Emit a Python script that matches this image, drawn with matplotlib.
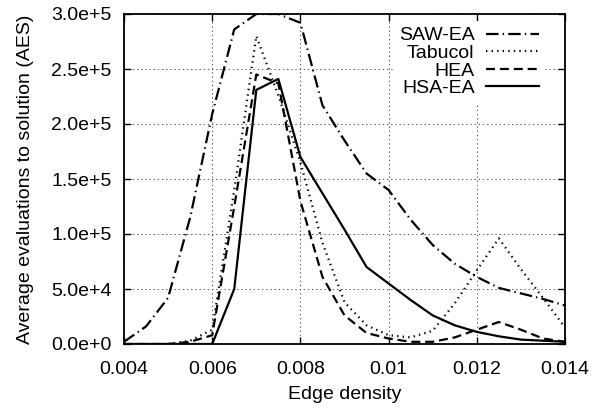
import matplotlib
matplotlib.use("Agg")
import matplotlib.pyplot as plt
from matplotlib.ticker import FixedLocator

plt.rcParams['font.family'] = ['Liberation Sans', 'DejaVu Sans']
plt.rcParams['lines.scale_dashes'] = False

# densidad de aristas
densidad = [0.004, 0.0045, 0.005, 0.0055, 0.006, 0.0065, 0.007, 0.0075, 0.008, 0.0085,
            0.009, 0.0095, 0.01, 0.0105, 0.011, 0.0115, 0.012, 0.0125, 0.013, 0.0135, 0.014]

saw_ea = [2e3, 1.6e4, 4.2e4, 1.15e5, 2.09e5, 2.86e5, 3.0e5, 3.0e5, 2.92e5, 2.17e5,
          1.85e5, 1.55e5, 1.4e5, 1.13e5, 9.0e4, 7.3e4, 6.1e4, 5.1e4, 4.6e4, 4.1e4, 3.5e4]
tabucol = [0, 0, 0, 3e3, 1.3e4, 1.4e5, 2.8e5, 2.26e5, 1.65e5, 9.2e4,
           3.8e4, 1.7e4, 8e3, 6e3, 1.2e4, 3.7e4, 6.7e4, 9.6e4, 6.8e4, 4.2e4, 1.5e4]
hea = [0, 0, 0, 2e3, 8e3, 1.25e5, 2.45e5, 2.37e5, 1.3e5, 6.1e4,
       2.6e4, 1e4, 5e3, 2e3, 2e3, 6e3, 1.3e4, 2e4, 1.3e4, 5e3, 2e3]
hsa_ea = [0, 0, 0, 0, 0, 5e4, 2.31e5, 2.41e5, 1.7e5, 1.37e5,
          1.04e5, 7e4, 5.5e4, 4e4, 2.6e4, 1.7e4, 1.1e4, 7e3, 4e3, 3e3, 2e3]

xticks = [0.004, 0.006, 0.008, 0.01, 0.012, 0.014]
xlabels = ["0.004", "0.006", "0.008", "0.01", "0.012", "0.014"]
yticks = [0, 5e4, 1e5, 1.5e5, 2e5, 2.5e5, 3e5]
ylabels = ["0.0e+0", "5.0e+4", "1.0e+5", "1.5e+5", "2.0e+5", "2.5e+5", "3.0e+5"]

fig = plt.figure(figsize=(5.97, 4.08), dpi=100)
ax = fig.add_axes([124 / 597, 64 / 408, 441 / 597, 330 / 408])

lw = 1.6
ax.plot(densidad, saw_ea, color='black', lw=lw, linestyle=(0, (9, 3, 1, 3)), label='SAW-EA')
ax.plot(densidad, tabucol, color='black', lw=lw, linestyle=(0, (1, 3)), label='Tabucol')
ax.plot(densidad, hea, color='black', lw=lw, linestyle=(0, (6.5, 3.5)), label='HEA')
ax.plot(densidad, hsa_ea, color='black', lw=lw, linestyle='-', label='HSA-EA')

ax.set_xlim(0.004, 0.014)
ax.set_ylim(0, 3e5)
ax.xaxis.set_major_locator(FixedLocator(xticks))
ax.yaxis.set_major_locator(FixedLocator(yticks))
ax.set_xticklabels(xlabels)
ax.set_yticklabels(ylabels)
ax.tick_params(direction='in', length=5, width=1, top=True, right=True, labelsize=14)
ax.tick_params(axis='x', pad=12)
ax.tick_params(axis='y', pad=9)
ax.grid(True, color='#555555', linestyle=(0, (1, 2)), linewidth=0.7)
for s in ax.spines.values():
    s.set_linewidth(1.3)

ax.set_xlabel("Edge density", fontsize=14, labelpad=6)
ax.set_ylabel("Average evaluations to solution (AES)", fontsize=14, labelpad=12)

leg = ax.legend(loc='upper right', bbox_to_anchor=(0.958, 0.985), fontsize=14, markerfirst=False,
                handlelength=2.7, handletextpad=0.6, labelspacing=0.0, borderaxespad=0.1,
                borderpad=0.3, fancybox=False, framealpha=1)
leg.get_frame().set_edgecolor('none')
leg.get_frame().set_facecolor('white')
for t in leg.get_texts():
    t.set_ha('right')

fig.savefig("out.png", dpi=100)
